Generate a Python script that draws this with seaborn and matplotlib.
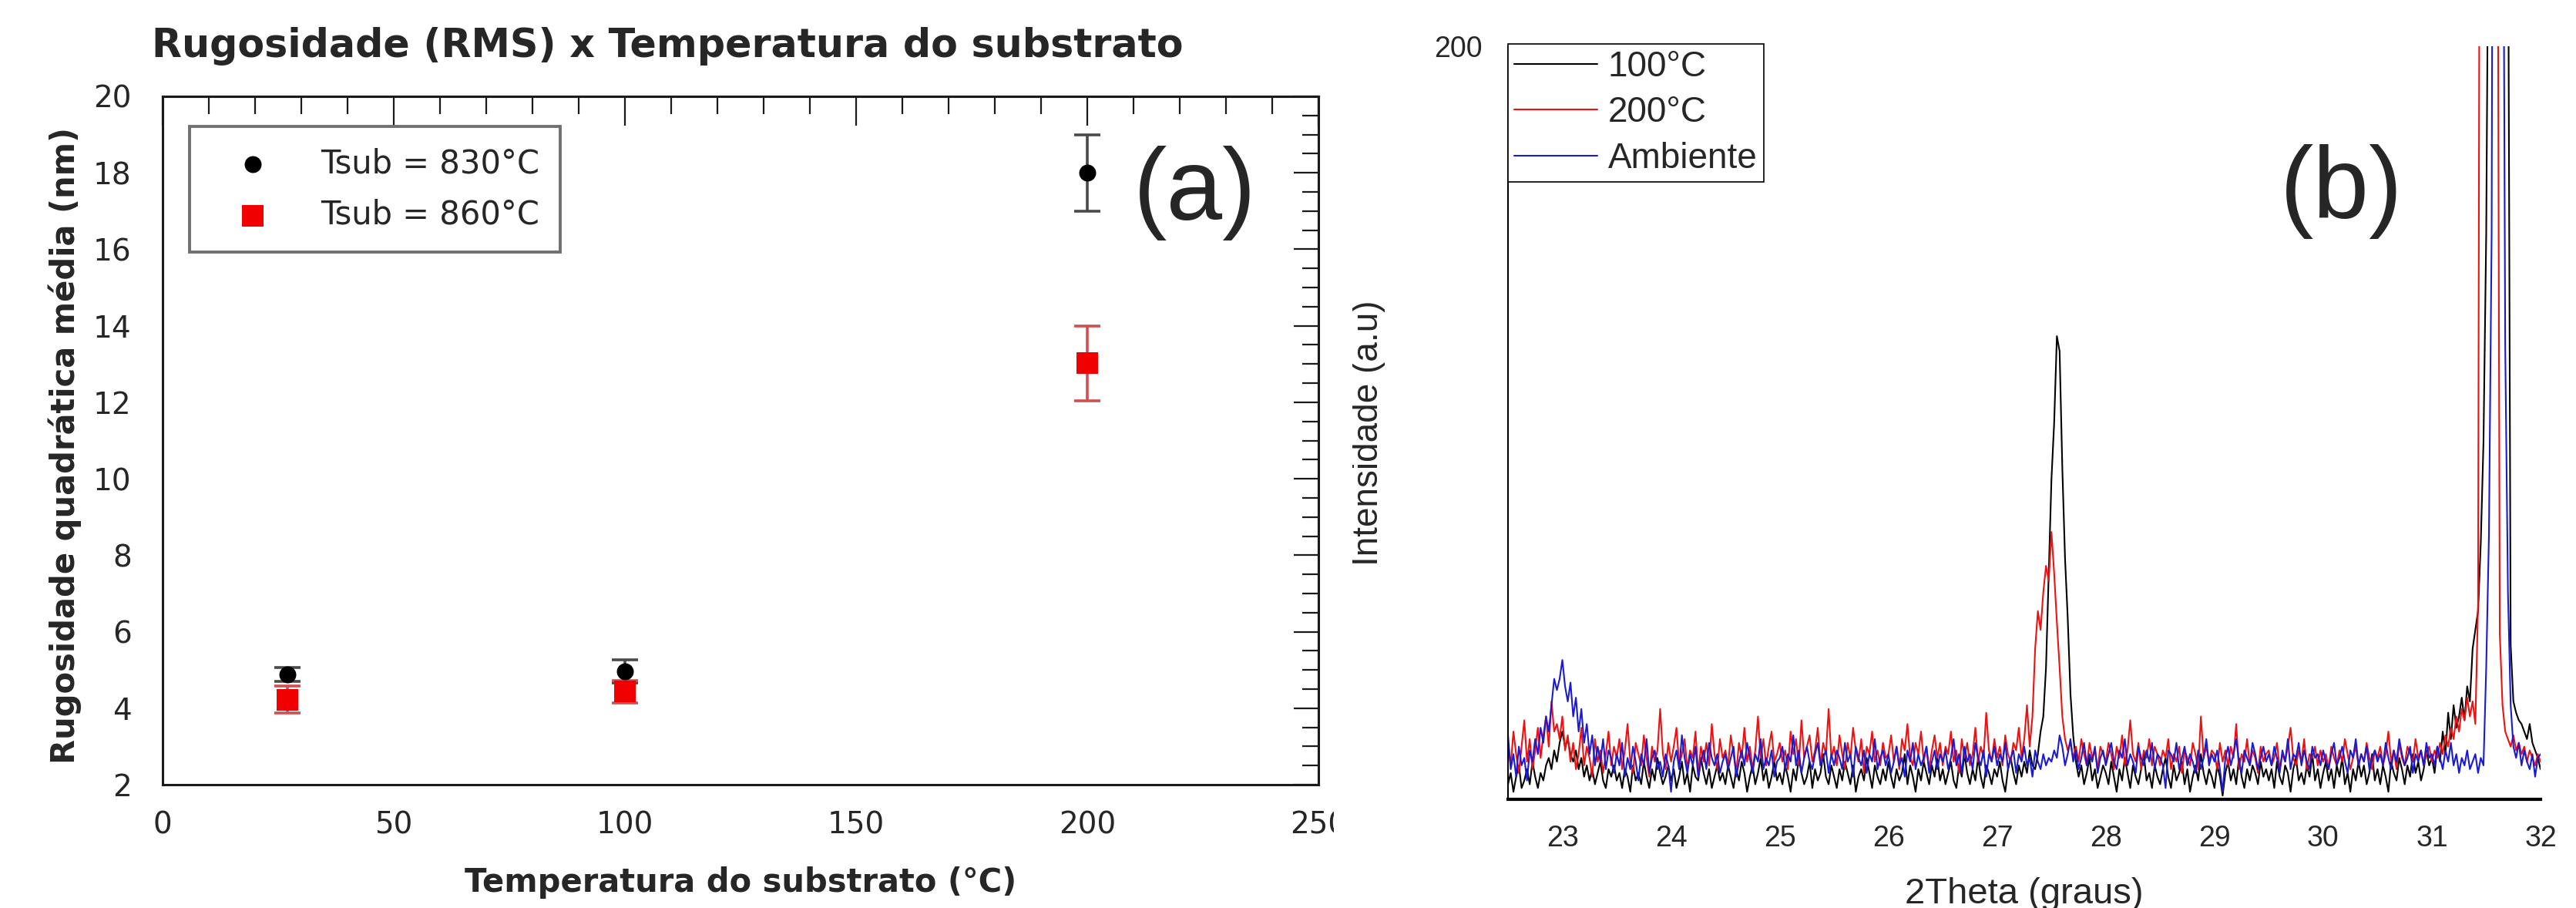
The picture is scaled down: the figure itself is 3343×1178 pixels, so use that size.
import numpy as np
import pandas as pd
import seaborn as sns
import matplotlib.pyplot as plt
from matplotlib.ticker import MultipleLocator, NullFormatter
from matplotlib.patches import Rectangle

# (a) rugosidade RMS x temperatura do substrato
temp_sub = [27, 100, 200]
rms_830 = [4.88, 4.97, 18.0]
err_830 = [0.18, 0.3, 1.0]
rms_860 = [4.22, 4.43, 13.02]
err_860 = [0.35, 0.3, 0.98]

# (b) DRX - contagens, passo de 0.025 grau a partir de 22.5
theta_ini = 22.5
theta_passo = 0.025

int_100 = [
    4, 7, 2, 6, 9, 3, 5, 8, 4, 10, 6, 3, 7, 5, 9, 11, 8, 13, 10, 15,
    18, 14, 16, 12, 10, 13, 8, 11, 6, 9, 5, 8, 4, 7, 10, 5, 3, 8, 6, 9,
    5, 7, 3, 8, 6, 2, 9, 5, 7, 4, 10, 6, 3, 8, 5, 11, 7, 4, 6, 9,
    5, 8, 3, 6, 10, 4, 7, 2, 9, 6, 5, 11, 7, 4, 8, 3, 6, 9, 5, 7,
    4, 9, 6, 3, 8, 5, 10, 7, 2, 6, 9, 4, 7, 11, 5, 8, 3, 6, 10, 5,
    7, 4, 9, 6, 2, 8, 5, 11, 7, 4, 6, 10, 3, 8, 5, 7, 12, 6, 4, 9,
    6, 3, 8, 5, 10, 7, 4, 9, 2, 6, 8, 5, 11, 7, 3, 9, 6, 4, 8, 5,
    10, 6, 3, 8, 5, 7, 12, 4, 9, 6, 2, 8, 5, 10, 7, 4, 9, 6, 11, 5,
    8, 4, 7, 10, 5, 3, 9, 6, 12, 7, 4, 8, 5, 11, 6, 3, 9, 7, 4, 8,
    6, 10, 5, 2, 8, 11, 7, 4, 9, 6, 10, 7, 13, 9, 8, 12, 18, 22, 35, 60,
    85, 100, 123, 119, 88, 64, 48, 28, 17, 10, 6, 9, 4, 7, 11, 5, 8, 3, 6, 9,
    7, 4, 10, 6, 2, 8, 5, 11, 7, 3, 9, 6, 4, 8, 12, 5, 7, 3, 9, 6,
    4, 8, 11, 6, 3, 9, 5, 7, 10, 4, 8, 2, 6, 9, 5, 12, 7, 4, 8, 6,
    3, 9, 6, 1, 7, 10, 5, 8, 4, 11, 6, 3, 8, 5, 9, 7, 4, 10, 6, 8,
    5, 8, 3, 10, 6, 4, 9, 7, 2, 8, 11, 5, 7, 4, 9, 6, 12, 5, 8, 3,
    7, 10, 5, 8, 3, 9, 6, 11, 4, 7, 2, 8, 5, 10, 6, 9, 4, 7, 12, 5,
    8, 4, 9, 6, 2, 10, 7, 5, 11, 8, 4, 9, 6, 12, 7, 10, 5, 8, 13, 9,
    11, 7, 14, 10, 18, 12, 23, 16, 25, 19, 22, 27, 21, 30, 26, 40, 45, 50, 68, 95,
    150, 260, 520, 900, 1200, 1000, 700, 420, 250, 41, 26, 23, 21, 20, 18, 16, 20, 15, 13, 11,
    8,
]

int_200 = [
    15, 9, 18, 12, 7, 14, 21, 10, 16, 8, 13, 19, 11, 17, 22, 14, 26, 18, 20, 16,
    22, 13, 17, 10, 15, 8, 12, 19, 9, 14, 11, 6, 16, 10, 13, 7, 12, 18, 9, 14,
    11, 16, 8, 13, 20, 10, 7, 15, 12, 9, 17, 11, 6, 14, 10, 13, 24, 12, 8, 15,
    10, 14, 19, 9, 12, 16, 8, 13, 11, 18, 7, 14, 10, 15, 9, 20, 12, 8, 16, 11,
    13, 9, 17, 12, 7, 15, 11, 19, 10, 14, 8, 13, 22, 11, 16, 9, 14, 18, 10, 12,
    15, 10, 13, 8, 18, 12, 16, 9, 21, 11, 14, 17, 10, 13, 19, 9, 15, 12, 24, 11,
    14, 9, 17, 12, 8, 15, 11, 19, 13, 10, 16, 7, 14, 12, 18, 10, 13, 9, 15, 11,
    12, 17, 10, 14, 8, 16, 13, 20, 11, 9, 15, 12, 18, 10, 14, 8, 13, 17, 11, 15,
    9, 14, 12, 18, 10, 13, 7, 16, 11, 15, 9, 12, 19, 10, 14, 11, 23, 13, 10, 16,
    11, 14, 9, 17, 12, 10, 15, 13, 19, 11, 16, 25, 14, 22, 40, 50, 45, 55, 62, 58,
    71, 60, 47, 35, 22, 16, 13, 15, 11, 14, 10, 16, 12, 9, 15, 11, 13, 8, 14, 12,
    10, 15, 12, 8, 14, 11, 17, 9, 13, 21, 12, 10, 15, 8, 13, 11, 16, 9, 14, 12,
    9, 13, 11, 16, 8, 12, 10, 14, 7, 13, 11, 9, 15, 12, 8, 22, 11, 14, 10, 13,
    12, 8, 15, 10, 13, 9, 14, 11, 20, 8, 12, 10, 16, 9, 13, 11, 7, 14, 10, 12,
    13, 9, 11, 15, 8, 12, 10, 14, 19, 11, 9, 13, 10, 16, 8, 12, 11, 14, 9, 13,
    10, 12, 8, 14, 11, 9, 13, 10, 16, 12, 8, 11, 14, 9, 12, 10, 15, 11, 8, 13,
    11, 14, 9, 12, 18, 10, 13, 8, 15, 11, 9, 14, 12, 10, 16, 11, 13, 9, 12, 14,
    10, 13, 11, 15, 12, 17, 14, 19, 16, 22, 18, 24, 21, 27, 22, 26, 20, 52, 400, 1200,
    1500, 1800, 1300, 700, 300, 44, 25, 18, 16, 14, 17, 13, 15, 12, 14, 10, 13, 11, 9, 12,
    10,
]

int_amb = [
    17, 8, 12, 6, 14, 9, 11, 5, 13, 10, 16, 12, 19, 15, 22, 18, 25, 32, 29, 32,
    37, 30, 26, 31, 22, 27, 18, 24, 15, 20, 12, 17, 9, 14, 10, 16, 8, 13, 11, 7,
    12, 9, 15, 6, 11, 8, 14, 10, 5, 12, 9, 16, 7, 11, 13, 8, 10, 6, 12, 9,
    2, 10, 13, 8, 17, 11, 7, 12, 9, 14, 6, 10, 13, 8, 15, 11, 9, 12, 7, 10,
    12, 8, 11, 14, 6, 10, 13, 9, 15, 11, 7, 12, 10, 16, 8, 11, 9, 13, 6, 10,
    11, 14, 8, 12, 10, 17, 9, 13, 7, 11, 14, 10, 8, 12, 15, 9, 11, 13, 7, 12,
    9, 13, 11, 8, 15, 10, 12, 6, 14, 11, 9, 13, 7, 12, 10, 16, 8, 11, 13, 9,
    12, 7, 10, 14, 9, 11, 6, 13, 10, 15, 8, 12, 9, 11, 14, 7, 10, 13, 8, 12,
    10, 13, 8, 11, 16, 9, 12, 7, 14, 10, 12, 8, 15, 11, 9, 13, 6, 12, 10, 14,
    9, 12, 10, 15, 8, 11, 13, 7, 12, 10, 14, 9, 11, 6, 13, 10, 8, 12, 9, 11,
    10, 13, 11, 17, 14, 9, 12, 16, 10, 13, 8, 11, 15, 9, 12, 10, 14, 7, 11, 13,
    9, 12, 15, 10, 8, 13, 11, 16, 9, 12, 10, 7, 14, 11, 9, 13, 10, 15, 8, 12,
    11, 9, 3, 13, 12, 10, 15, 8, 11, 14, 9, 12, 10, 7, 13, 8, 11, 16, 9, 12,
    10, 13, 8, 2, 11, 14, 9, 12, 16, 10, 7, 13, 11, 9, 15, 12, 8, 11, 14, 10,
    12, 9, 14, 11, 7, 13, 10, 16, 8, 12, 11, 15, 9, 13, 10, 8, 14, 11, 12, 9,
    13, 10, 8, 12, 15, 9, 11, 14, 10, 7, 13, 11, 16, 9, 12, 10, 14, 8, 11, 13,
    10, 12, 9, 15, 11, 8, 13, 10, 16, 12, 9, 11, 14, 7, 12, 10, 13, 9, 15, 11,
    12, 9, 14, 11, 8, 13, 10, 15, 9, 12, 7, 11, 9, 13, 8, 10, 12, 7, 11, 9,
    35, 70, 150, 450, 1400, 1100, 300, 120, 55, 25, 14, 11, 15, 9, 13, 10, 8, 12, 6, 11,
    12,
]

series_nomes = ['100°C', '200°C', 'Ambiente']
series_cores = {'100°C': 'black', '200°C': '#ee1111', 'Ambiente': '#1a1ad2'}

sns.set_style('white')
plt.rcParams['font.family'] = ['DejaVu Sans']
arial = 'Liberation Sans'

fig = plt.figure(figsize=(33.43, 11.78), dpi=100)
ax1 = fig.add_axes([211 / 3343, 1 - 1018 / 1178, 1500 / 3343, 893 / 1178])
ax2 = fig.add_axes([1957 / 3343, 1 - 1037 / 1178, 1340 / 3343, 977 / 1178])

# ---------- (a) ----------
ax1.errorbar(temp_sub, rms_830, yerr=err_830, fmt='none', ecolor='#4a4a4a',
             elinewidth=2.6, capsize=12.5, capthick=2.6, zorder=2)
ax1.errorbar(temp_sub, rms_860, yerr=err_860, fmt='none', ecolor='#d05050',
             elinewidth=2.6, capsize=12.5, capthick=2.6, zorder=2)
sns.scatterplot(x=temp_sub, y=rms_830, ax=ax1, color='black', marker='o', s=250,
                linewidth=0, label='Tsub = 830°C', zorder=3)
sns.scatterplot(x=temp_sub, y=rms_860, ax=ax1, color='#f00000', marker='s', s=380,
                linewidth=0, label='Tsub = 860°C', zorder=3)

ax1.set_xlim(0, 250)
ax1.set_ylim(2, 20)
ax1.xaxis.set_major_locator(MultipleLocator(50))
ax1.xaxis.set_minor_locator(MultipleLocator(10))
ax1.yaxis.set_major_locator(MultipleLocator(2))
ax1.yaxis.set_minor_locator(MultipleLocator(0.5))
kcor = '#1a1a1a'
ax1.tick_params(axis='x', which='major', direction='out', length=20, width=1.6,
                labelsize=28, pad=4, color=kcor)
ax1.tick_params(axis='x', which='minor', direction='out', length=13, width=1.6, color=kcor)
ax1.tick_params(axis='y', which='major', direction='out', length=23, width=1.6,
                labelsize=28, pad=6, color=kcor)
ax1.tick_params(axis='y', which='minor', direction='out', length=15, width=1.6, color=kcor)
for s in ax1.spines.values():
    s.set_linewidth(2.2)
    s.set_color(kcor)

topo = ax1.secondary_xaxis('top')
topo.xaxis.set_major_locator(MultipleLocator(50))
topo.xaxis.set_minor_locator(MultipleLocator(10))
topo.xaxis.set_major_formatter(NullFormatter())
topo.tick_params(which='major', direction='in', length=27, width=1.6, color=kcor)
topo.tick_params(which='minor', direction='in', length=16.5, width=1.6, color=kcor)
topo.spines['top'].set_linewidth(2.2)
topo.spines['top'].set_color(kcor)

direita = ax1.secondary_yaxis('right')
direita.yaxis.set_major_locator(MultipleLocator(2))
direita.yaxis.set_minor_locator(MultipleLocator(0.5))
direita.yaxis.set_major_formatter(NullFormatter())
direita.tick_params(which='major', direction='in', length=23, width=1.6, color=kcor)
direita.tick_params(which='minor', direction='in', length=15, width=1.6, color=kcor)
direita.spines['right'].set_linewidth(2.2)
direita.spines['right'].set_color(kcor)

ax1.set_xlabel('Temperatura do substrato (°C)', fontsize=30, fontweight='bold')
ax1.xaxis.set_label_coords(0.5, -0.142)
ax1.xaxis.label.set_va('center')
ax1.set_ylabel('Rugosidade quadrática média (nm)', fontsize=30, fontweight='bold')
ax1.yaxis.set_label_coords(-0.0847, 0.493)
ax1.yaxis.label.set_va('center')
ax1.text(0.437, 1.073, 'Rugosidade (RMS) x Temperatura do substrato', transform=ax1.transAxes,
         fontsize=36.5, fontweight='bold', ha='center', va='center')
ax1.text(0.893, 0.860, '(a)', transform=ax1.transAxes, fontsize=94, family=arial,
         ha='center', va='center')

leg1 = ax1.legend(loc='upper left', bbox_to_anchor=(0.0233, 0.956), borderaxespad=0,
                  fontsize=30, handlelength=2.64, handletextpad=0.79, borderpad=0.65,
                  labelspacing=0.59, fancybox=False, framealpha=1, edgecolor='#707070')
leg1.get_frame().set_linewidth(2.8)

# recorte da imagem original na borda direita do painel (a)
fig.add_artist(Rectangle((1731 / 3343, 0), 24 / 3343, 1, transform=fig.transFigure,
                         facecolor='white', edgecolor='none', zorder=10))

# ---------- (b) ----------
for nome, serie in zip(series_nomes, [int_100, int_200, int_amb]):
    theta = theta_ini + theta_passo * np.arange(len(serie))
    df = pd.DataFrame({'theta': theta, 'intensidade': serie})
    sns.lineplot(data=df, x='theta', y='intensidade', ax=ax2, color=series_cores[nome],
                 linewidth=1.5, label=nome, errorbar=None, sort=False)

ax2.set_xlim(22.5, 32)
ax2.set_ylim(0, 200)
ax2.set_xticks(range(23, 33))
ax2.xaxis.set_minor_locator(MultipleLocator(0.5))
ax2.set_yticks([100, 200])
ax2.set_yticklabels(['', '200'])
ax2.spines['top'].set_visible(False)
ax2.spines['right'].set_visible(False)
ax2.spines['bottom'].set_linewidth(3.0)
ax2.spines['left'].set_linewidth(1.5)
ax2.spines['bottom'].set_color('black')
ax2.spines['left'].set_color('black')
ax2.tick_params(axis='x', which='major', direction='out', length=14, width=1.6,
                labelsize=27, pad=10, color='black')
ax2.tick_params(axis='x', which='minor', direction='out', length=7, width=1.6, color='black')
ax2.tick_params(axis='y', which='major', direction='out', length=14, width=2.2,
                labelsize=27, pad=10, color='black')
for t in ax2.get_xticklabels() + ax2.get_yticklabels():
    t.set_fontfamily(arial)

ax2.set_xlabel('2Theta (graus)', fontsize=34, family=arial)
ax2.xaxis.set_label_coords(0.5, -0.126)
ax2.xaxis.label.set_va('center')
ax2.set_ylabel('Intensidade (a.u)', fontsize=33, family=arial)
ax2.yaxis.set_label_coords(-0.135, 0.486)
ax2.yaxis.label.set_va('center')
ax2.text(0.807, 0.807, '(b)', transform=ax2.transAxes, fontsize=94, family=arial,
         ha='center', va='center')

leg2 = ax2.legend(loc='upper left', bbox_to_anchor=(0, 1.003), borderaxespad=0,
                  prop={'family': arial, 'size': 33}, handlelength=2.35, handletextpad=0.3,
                  borderpad=0.18, labelspacing=0.33, fancybox=False, framealpha=1,
                  edgecolor='black')
leg2.get_frame().set_linewidth(1.2)

fig.savefig('out.png', dpi=100, facecolor='white')
